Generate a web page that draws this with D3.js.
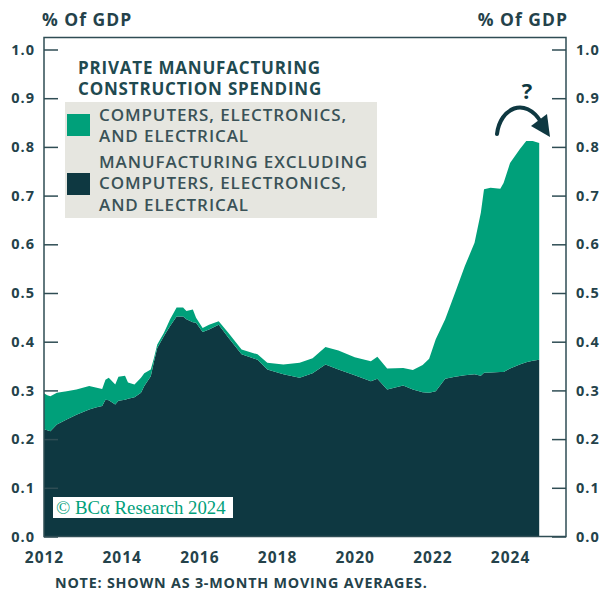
<!DOCTYPE html>
<html>
<head>
<meta charset="utf-8">
<script src="https://cdn.jsdelivr.net/npm/d3@7"></script>
<style>
    body { margin: 0; background: #fff; }
    text { font-family: "Open Sans", "Lato", sans-serif; font-weight: 700; }
    .yTick text { font-size: 14.5px; fill: #24424a; letter-spacing: 1px; }
    .xTick text { font-size: 15.5px; fill: #24424a; letter-spacing: 1px; }
    .legendText { font-size: 17px; fill: #3a5257; font-weight: 600; letter-spacing: 0.9px; }
    .legendTitle { font-size: 17px; fill: #1f4a50; letter-spacing: 0.8px; }
    .unitLabel { font-size: 17.5px; fill: #24424a; letter-spacing: 1px; }
    .note { font-size: 14.3px; fill: #24424a; letter-spacing: 0.8px; }
    .watermark { font-family: "Liberation Serif", "DejaVu Serif", serif; font-weight: 400; font-size: 18.8px; fill: #00a07a; }
</style>
</head>
<body>
<script>
(function(){

var months = ["2012-01","2012-02","2012-03","2012-05","2012-08","2012-11",
    "2013-03","2013-05","2013-07","2013-08","2013-09","2013-11","2013-12",
    "2014-02","2014-03","2014-05","2014-07","2014-08","2014-10","2014-11","2014-12",
    "2015-02","2015-04","2015-06","2015-08","2015-09","2015-11","2015-12",
    "2016-02","2016-04","2016-07","2016-10",
    "2017-02","2017-07","2017-10",
    "2018-03","2018-08","2018-12",
    "2019-04","2019-08",
    "2020-01","2020-06","2020-08","2020-11",
    "2021-04","2021-07","2021-10","2021-12",
    "2022-02","2022-05","2022-08","2022-11",
    "2023-02","2023-04","2023-05","2023-07","2023-10","2023-11",
    "2024-01","2024-04","2024-06","2024-08","2024-10"];

//manufacturing excluding computers, electronics and electrical (% of GDP)
var otherMfg = [0.220,0.218,0.216,0.230,0.240,0.250,
    0.261,0.265,0.268,0.281,0.280,0.271,0.279,
    0.281,0.283,0.286,0.295,0.309,0.329,0.360,0.387,
    0.411,0.432,0.452,0.452,0.446,0.440,0.439,
    0.420,0.425,0.435,0.408,
    0.374,0.363,0.343,
    0.333,0.326,0.335,
    0.353,0.343,
    0.331,0.319,0.324,0.302,
    0.310,0.302,0.296,0.295,
    0.298,0.324,0.328,0.331,
    0.333,0.330,0.336,0.337,0.338,0.338,
    0.345,0.353,0.358,0.361,0.363];

//computers, electronics and electrical (% of GDP), stacked on top
var electronics = [0.074,0.072,0.072,0.065,0.058,0.052,
    0.048,0.041,0.035,0.041,0.046,0.041,0.049,
    0.049,0.033,0.026,0.031,0.026,0.014,0.007,0.007,
    0.007,0.014,0.018,0.018,0.017,0.026,0.010,
    0.008,0.010,0.007,0.010,
    0.010,0.011,0.014,
    0.020,0.031,0.031,
    0.036,0.039,
    0.037,0.041,0.045,0.043,
    0.036,0.040,0.056,0.070,
    0.107,0.122,0.172,0.224,
    0.270,0.335,0.377,0.379,0.376,0.388,
    0.422,0.442,0.454,0.451,0.445];

var yTicks = [0, 0.1, 0.2, 0.3, 0.4, 0.5, 0.6, 0.7, 0.8, 0.9, 1.0];
var xTickYears = [2012, 2014, 2016, 2018, 2020, 2022, 2024];

var legendItems = [
    {label: ["COMPUTERS, ELECTRONICS,", "AND ELECTRICAL"], color: "#00a07a"},
    {label: ["MANUFACTURING EXCLUDING", "COMPUTERS, ELECTRONICS,", "AND ELECTRICAL"], color: "#0e3841"}
];

var colors = {other: "#0e3841", electronics: "#00a07a"};

window.onload = setChart;

function setChart(){
    var width = 605,
        height = 593,
        left = 44,
        right = 566,
        top = 37.5,
        bottom = 536.5;

    var svg = d3.select("body")
        .append("svg")
        .attr("width", width)
        .attr("height", height);

    var parseMonth = d3.timeParse("%Y-%m");

    var rows = months.map(function(m, i){
        return {date: parseMonth(m), other: otherMfg[i], electronics: electronics[i]};
    });

    var x = d3.scaleTime()
        .domain([new Date(2012, 0, 1), new Date(2025, 5, 10)])
        .range([left, right]);

    var y = d3.scaleLinear()
        .domain([0, 1])
        .range([bottom, 49.5]);

    var stack = d3.stack().keys(["other", "electronics"]);
    var series = stack(rows);

    var area = d3.area()
        .x(function(d){ return x(d.data.date); })
        .y0(function(d){ return y(d[0]); })
        .y1(function(d){ return y(d[1]); });

    svg.selectAll(".layer")
        .data(series)
        .enter()
        .append("path")
        .attr("class", "layer")
        .attr("d", area)
        .style("fill", function(d){ return colors[d.key]; });

    //frame round the plot
    svg.append("rect")
        .attr("x", left)
        .attr("y", top)
        .attr("width", right - left)
        .attr("height", bottom - top)
        .style("fill", "none")
        .style("stroke", "#2f4d54")
        .style("stroke-width", 1.5);

    //left and right axes, ticks pointing inward
    var leftAxis = d3.axisLeft(y)
        .tickValues(yTicks)
        .tickFormat(d3.format(".1f"))
        .tickSize(-14)
        .tickPadding(9);

    var rightAxis = d3.axisRight(y)
        .tickValues(yTicks)
        .tickFormat(d3.format(".1f"))
        .tickSize(-14)
        .tickPadding(10);

    var gl = svg.append("g")
        .attr("class", "yTick")
        .attr("transform", "translate(" + left + ",0)")
        .call(leftAxis);

    var gr = svg.append("g")
        .attr("class", "yTick")
        .attr("transform", "translate(" + right + ",0)")
        .call(rightAxis);

    [gl, gr].forEach(function(g){
        g.select(".domain").remove();
        g.selectAll(".tick line").style("stroke", "#2f4d54").style("stroke-width", 1.5);
        g.selectAll("text").attr("font-family", null).attr("font-size", null);
    });

    var bottomAxis = d3.axisBottom(x)
        .tickValues(xTickYears.map(function(yr){ return new Date(yr, 0, 1); }))
        .tickFormat(d3.timeFormat("%Y"))
        .tickSize(0)
        .tickPadding(15);

    var gb = svg.append("g")
        .attr("class", "xTick")
        .attr("transform", "translate(0," + bottom + ")")
        .call(bottomAxis);
    gb.select(".domain").remove();
    gb.selectAll("text").attr("font-family", null).attr("font-size", null);

    //unit labels
    svg.append("text")
        .attr("class", "unitLabel")
        .attr("x", 42)
        .attr("y", 26)
        .text("% Of GDP");

    svg.append("text")
        .attr("class", "unitLabel")
        .attr("x", 568)
        .attr("y", 26)
        .style("text-anchor", "end")
        .text("% Of GDP");

    setLegend(svg);

    //watermark
    svg.append("rect")
        .attr("x", 53)
        .attr("y", 497)
        .attr("width", 180)
        .attr("height", 21)
        .style("fill", "#fff");

    svg.append("text")
        .attr("class", "watermark")
        .attr("x", 56)
        .attr("y", 514)
        .text("\u00a9 BC\u03b1 Research 2024");

    //note
    svg.append("text")
        .attr("class", "note")
        .attr("x", 55)
        .attr("y", 588)
        .text("NOTE: SHOWN AS 3-MONTH MOVING AVERAGES.");

    //question mark and curved arrow
    svg.append("text")
        .attr("x", 527)
        .attr("y", 99)
        .style("text-anchor", "middle")
        .style("font-size", "22px")
        .style("fill", "#0e3841")
        .text("?");

    svg.append("path")
        .attr("d", "M497,134 C500,108 525,96 541,122")
        .style("fill", "none")
        .style("stroke", "#0e3841")
        .style("stroke-width", 4)
        .style("stroke-linecap", "round");

    svg.append("path")
        .attr("d", "M550,137 L531,126 L547,114 Z")
        .style("fill", "#0e3841");
};

function setLegend(svg){
    svg.append("text")
        .attr("class", "legendTitle")
        .attr("x", 78)
        .attr("y", 74)
        .text("PRIVATE MANUFACTURING");

    svg.append("text")
        .attr("class", "legendTitle")
        .attr("x", 78)
        .attr("y", 95)
        .text("CONSTRUCTION SPENDING");

    svg.append("rect")
        .attr("x", 65)
        .attr("y", 102)
        .attr("width", 312)
        .attr("height", 116)
        .style("fill", "#e6e6e0");

    var lineY = [[121, 142], [168, 189, 211]];
    var swatchY = [114, 173];

    legendItems.forEach(function(item, i){
        svg.append("rect")
            .attr("x", 67)
            .attr("y", swatchY[i])
            .attr("width", 23)
            .attr("height", 22)
            .style("fill", item.color);

        item.label.forEach(function(line, j){
            svg.append("text")
                .attr("class", "legendText")
                .attr("x", 99)
                .attr("y", lineY[i][j])
                .text(line);
        });
    });
}

})();
</script>
</body>
</html>
